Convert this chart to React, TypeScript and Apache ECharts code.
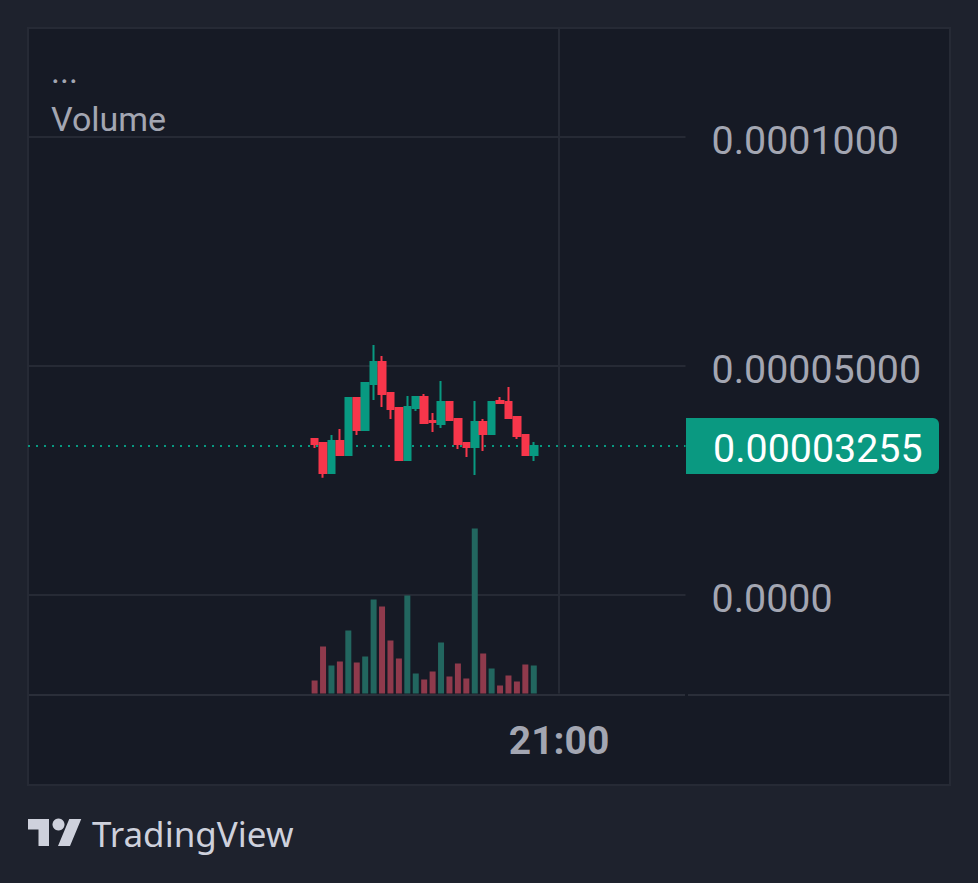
import React, { useEffect, useRef } from "react";
import * as echarts from "echarts";

const LOGO_PATH = "M14 22H7V11H0V4h14v18zM28 22h-8l7.5-18h8L28 22z";
echarts.graphic.registerShape("tvLogo", echarts.graphic.extendPath(LOGO_PATH, {}));

const UNIT = 1e-5;

// open, close, low, high (in units of 1e-5)
const opens = [3.406, 3.319, 2.664, 3.362, 3.057, 4.301, 3.603, 4.607, 5.087, 4.41, 4.083, 2.948, 4.083, 4.323, 3.799, 3.734, 4.214, 3.843, 3.319, 3.231, 3.777, 3.515, 4.236, 4.214, 3.886, 3.493, 3.057];
const closes = [3.297, 2.664, 3.362, 3.057, 4.301, 3.603, 4.629, 5.087, 4.389, 4.061, 2.948, 4.105, 4.323, 3.755, 3.777, 4.214, 3.821, 3.297, 3.231, 3.777, 3.515, 4.214, 4.192, 3.865, 3.472, 3.057, 3.255];
const lows = [3.21, 2.561, 2.664, 3.057, 3.057, 3.493, 3.603, 4.258, 4.105, 3.843, 2.926, 2.948, 4.017, 3.734, 3.559, 3.646, 3.821, 3.188, 3.013, 2.62, 3.144, 3.515, 4.17, 3.865, 3.406, 3.057, 2.926];
const highs = [3.406, 3.319, 3.493, 3.624, 4.301, 4.323, 4.629, 5.459, 5.218, 4.41, 4.083, 4.345, 4.345, 4.389, 3.974, 4.672, 4.214, 3.843, 3.319, 4.236, 3.843, 4.214, 4.323, 4.541, 3.886, 3.515, 3.341];
const volumes = [13, 47, 28, 32, 63, 31, 37, 94, 87, 53, 35, 98, 20, 14, 22, 51, 17, 30, 15, 165, 40, 25, 8, 18, 12, 29, 28];

const priceLabels: Record<string, string> = {
  "0.0001": "0.0001000",
  "0.00005": "0.00005000",
  "0": "0.0000",
};
const lastPrice = 0.00003255;
const lastPriceLabel = "0.00003255";

const SLOTS = 79;
const FIRST_SLOT = 34;
const TIME_SLOT = 63;
const TIME_LABEL = "21:00";

const categories = Array.from({ length: SLOTS }, (_, i) => (i === TIME_SLOT ? TIME_LABEL : ""));
const pad = Array.from({ length: FIRST_SLOT }, () => "-");

const UP = "#089981";
const DOWN = "#f7364b";
const UP_VOL = "#22665f";
const DOWN_VOL = "#8f3a4c";
const PAGE_BG = "#1e222d";
const CHART_BG = "#161a25";
const LINE = "#262a35";
const TEXT = "#a3a6b2";
const LOGO = "#ced1dc";
const FONT = "Roboto";

const App: React.FC = () => {
  const chartRef = useRef<HTMLDivElement | null>(null);

  useEffect(() => {
    document.body.style.margin = "0";
    const chartDom = chartRef.current;
    if (!chartDom) return;
    const chart = echarts.init(chartDom, undefined, { renderer: "svg" });

    const candleData = opens.map((o, i) => [o * UNIT, closes[i] * UNIT, lows[i] * UNIT, highs[i] * UNIT]);
    const volumeData = volumes.map((v, i) => ({
      value: v,
      itemStyle: { color: closes[i] >= opens[i] ? UP_VOL : DOWN_VOL },
    }));

    const option = {
      animation: false,
      backgroundColor: PAGE_BG,
      grid: [
        { left: 28, top: 137, width: 657.5, height: 458 },
        { left: 28, top: 29, width: 657.5, height: 664.5 },
      ],
      xAxis: [
        {
          type: "category",
          gridIndex: 0,
          data: categories,
          boundaryGap: false,
          axisLine: { show: false },
          axisTick: { show: false },
          axisLabel: { show: false },
          splitLine: { show: false },
        },
        {
          type: "category",
          gridIndex: 1,
          data: categories,
          boundaryGap: false,
          axisLine: { show: false },
          axisTick: { show: false },
          axisLabel: {
            interval: 0,
            margin: 28,
            color: TEXT,
            fontFamily: FONT,
            fontSize: 39,
            fontWeight: "bold",
          },
          splitLine: {
            show: true,
            interval: (_: number, v: string) => v !== "",
            lineStyle: { color: LINE, width: 2 },
          },
        },
      ],
      yAxis: [
        {
          type: "value",
          gridIndex: 0,
          position: "right",
          min: 0,
          max: 0.0001,
          interval: 0.00005,
          axisLine: { show: false },
          axisTick: { show: false },
          axisLabel: {
            margin: 26,
            formatter: (v: number) => {
              const label = priceLabels[String(Number(v.toFixed(6)))];
              return label ? `{p|${label}}` : "";
            },
            rich: {
              p: {
                color: TEXT,
                fontFamily: FONT,
                fontSize: 39.4,
                padding: [6, 0, 0, 0],
              },
            },
          },
          splitLine: { show: true, lineStyle: { color: LINE, width: 2 } },
        },
        {
          type: "value",
          gridIndex: 1,
          min: 0,
          max: 664.5,
          show: false,
        },
      ],
      series: [
        {
          type: "bar",
          name: "Volume",
          xAxisIndex: 1,
          yAxisIndex: 1,
          barWidth: 6,
          data: [...pad, ...volumeData],
          z: 1,
        },
        {
          type: "line",
          name: "Last price",
          xAxisIndex: 0,
          yAxisIndex: 0,
          showSymbol: false,
          silent: true,
          data: categories.map(() => lastPrice),
          lineStyle: { color: UP, type: [2, 6], width: 2 },
          z: 2,
        },
        {
          type: "candlestick",
          xAxisIndex: 0,
          yAxisIndex: 0,
          barWidth: 7,
          clip: false,
          data: [...pad.map(() => ["-", "-", "-", "-"]), ...candleData],
          itemStyle: {
            color: UP,
            color0: DOWN,
            borderColor: UP,
            borderColor0: DOWN,
            borderWidth: 2,
          },
          z: 3,
        },
      ],
      graphic: [
        {
          type: "rect",
          z: -10,
          shape: { x: 28, y: 28, width: 922, height: 757 },
          style: { fill: CHART_BG, stroke: LINE, lineWidth: 2 },
        },
        {
          type: "line",
          z: 0,
          shape: { x1: 29, y1: 695, x2: 685, y2: 695 },
          style: { stroke: "#2a2e39", lineWidth: 2 },
        },
        {
          type: "line",
          z: 0,
          shape: { x1: 688, y1: 695, x2: 950, y2: 695 },
          style: { stroke: "#2a2e39", lineWidth: 2 },
        },
        {
          type: "text",
          z: 5,
          x: 51,
          y: 54,
          style: { text: "...", fill: TEXT, font: `34px ${FONT}` },
        },
        {
          type: "text",
          z: 5,
          x: 51,
          y: 102,
          style: { text: "Volume", fill: TEXT, font: `34px ${FONT}` },
        },
        {
          type: "rect",
          z: 5,
          shape: { x: 686, y: 418, width: 253, height: 56, r: [0, 6, 6, 0] },
          style: { fill: "#0a9981" },
        },
        {
          type: "text",
          z: 6,
          x: 713,
          y: 448,
          style: {
            text: lastPriceLabel,
            fill: "#ffffff",
            font: `39.4px ${FONT}`,
            verticalAlign: "middle",
          },
        },
        {
          type: "tvLogo",
          z: 5,
          x: 28,
          y: 813,
          scaleX: 1.5,
          scaleY: 1.5,
          style: { fill: LOGO },
        },
        {
          type: "circle",
          z: 5,
          shape: { cx: 58.5, cy: 824.5, r: 6 },
          style: { fill: LOGO },
        },
        {
          type: "text",
          z: 5,
          x: 92,
          y: 833,
          style: {
            text: "TradingView",
            fill: LOGO,
            font: `35px "Noto Sans"`,
            verticalAlign: "middle",
          },
        },
      ],
    };

    chart.setOption(option);

    return () => {
      chart.dispose();
    };
  }, []);

  return (
    <div
      ref={chartRef}
      style={{ position: "fixed", left: 0, top: 0, width: 978, height: 883 }}
    ></div>
  );
};

export default App;
